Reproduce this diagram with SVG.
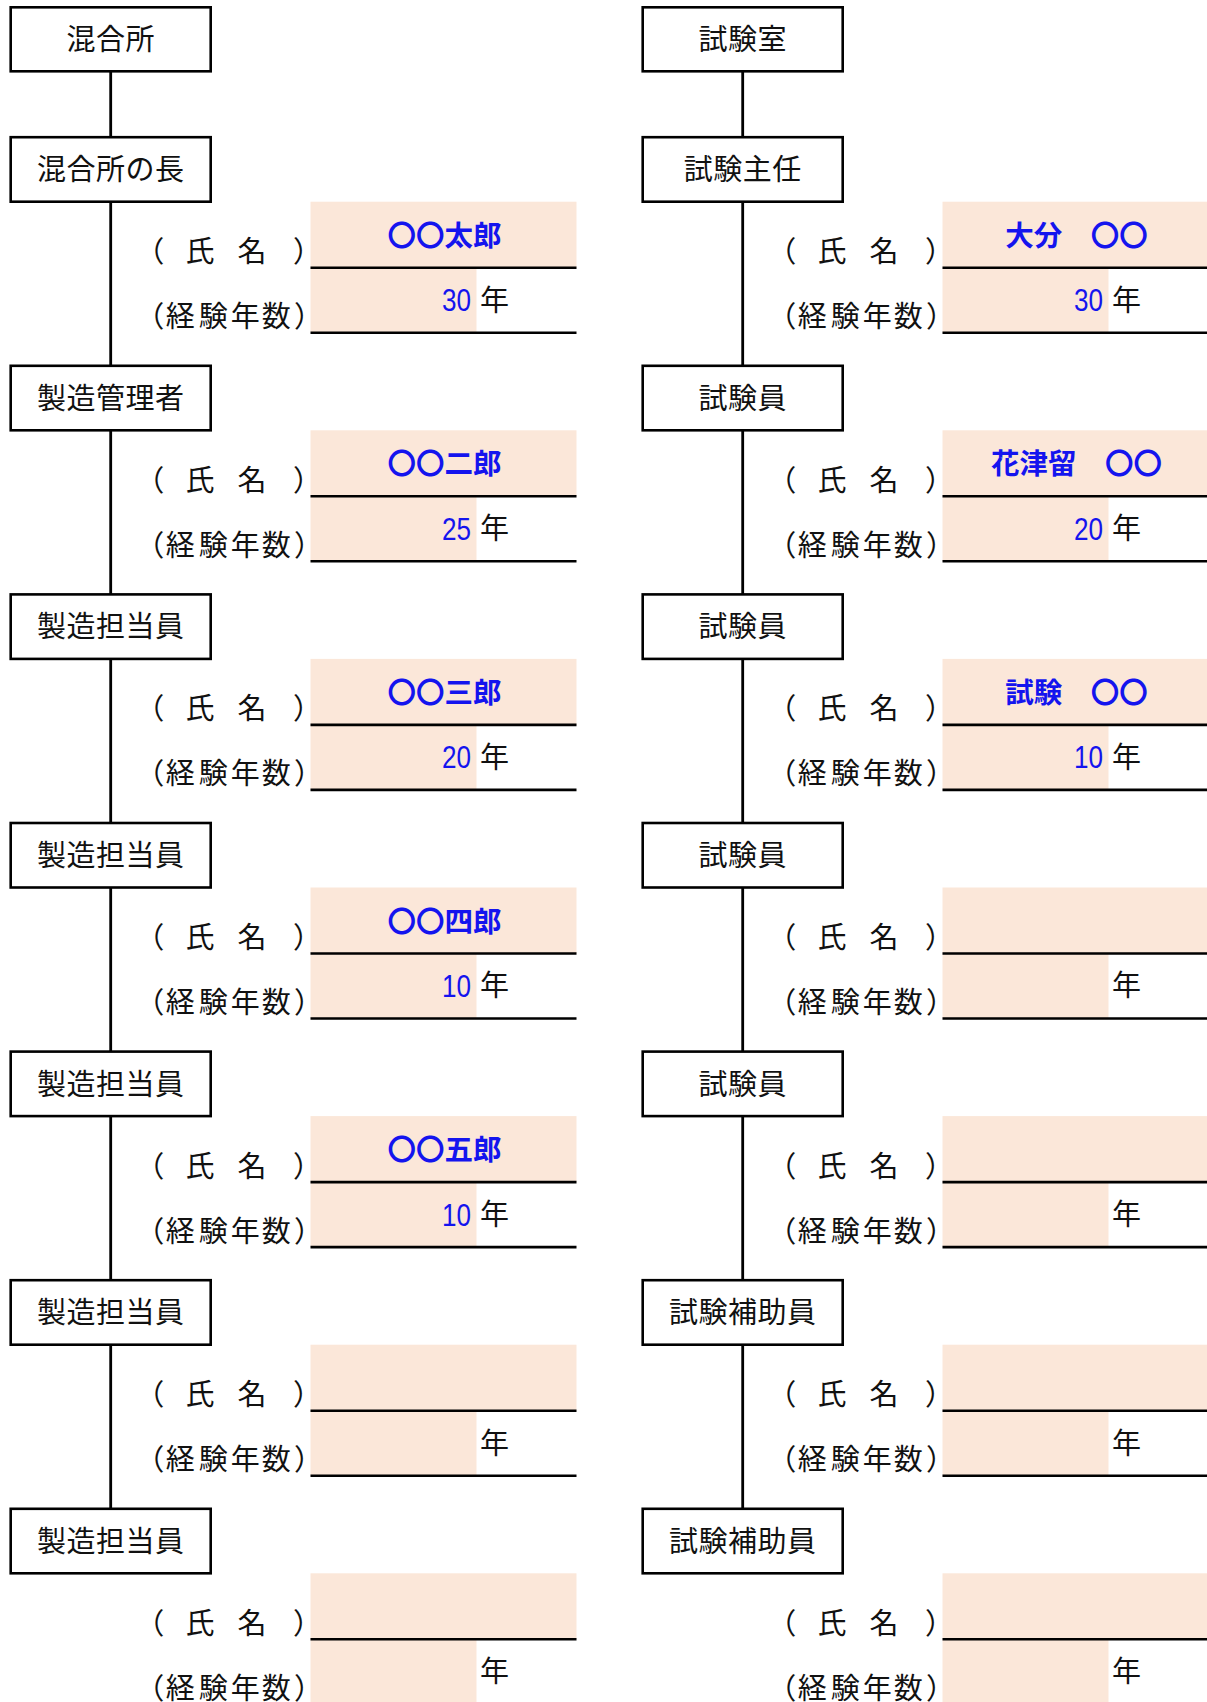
<svg xmlns="http://www.w3.org/2000/svg" width="1207" height="1702" viewBox="0 0 1207 1702">
<style>
.box{fill:#fff;stroke:#000;stroke-width:2.6}
.conn{stroke:#000;stroke-width:2.8;fill:none}
.rule{stroke:#000;stroke-width:2.6;fill:none}
.peach{fill:#FBE7D9}
.t{font-family:"Noto Sans CJK JP","Noto Sans CJK SC",sans-serif;fill:#111}
.title{font-size:29px;text-anchor:middle;letter-spacing:0.5px}
.lab{font-size:29px}
.val{font-family:"Noto Sans CJK JP","Noto Sans CJK SC",sans-serif;font-size:28.5px;font-weight:700;fill:#1414ee;text-anchor:middle}
.num{font-family:"Liberation Sans",Arial,sans-serif;font-size:31px;fill:#1414ee;text-anchor:end}
.yr{font-size:29px}
</style>
<defs>
<g id="fieldsBase">
<rect class="peach" x="310.5" y="64.5" width="266" height="66"/>
<rect class="peach" x="310.5" y="130.5" width="166" height="65"/>
<text class="t lab" x="135.2 160 185.5 211 237.5 265 293" y="125">（　氏　名　）</text>
<text class="t lab" x="135.2 165.7 198.8 230.8 261.7 294" y="190">（経験年数）</text>
<text class="t yr" x="480" y="173.4">年</text>
</g>
</defs>

<g id="connectors">
<path class="conn" d="M110.7 71.3V137.2M110.7 201.7V365.8M110.7 430.3V594.4M110.7 658.9V823M110.7 887.5V1051.6M110.7 1116.1V1280.2M110.7 1344.7V1508.8"/>
<path class="conn" d="M742.7 71.3V137.2M742.7 201.7V365.8M742.7 430.3V594.4M742.7 658.9V823M742.7 887.5V1051.6M742.7 1116.1V1280.2M742.7 1344.7V1508.8"/>
</g>

<!-- Left column -->
<g id="node-mixing-plant"><rect class="box" x="10.7" y="7.3" width="200" height="64"/><text class="t title" x="110.7" y="50.2">混合所</text></g>

<g transform="translate(0,137.2)">
<g id="node-plant-head"><rect class="box" x="10.7" y="0" width="200" height="64.5"/><text class="t title" x="110.7" y="43.1">混合所の長</text></g>
<g id="fields-plant-head"><use href="#fieldsBase"/><path class="rule" d="M310.5 130.5H576.5M310.5 195.5H576.5"/>
<text class="val" x="444.5" y="108.7">〇〇太郎</text><text class="num" x="471" y="174" textLength="29" lengthAdjust="spacingAndGlyphs">30</text></g>
</g>

<g transform="translate(0,365.8)">
<g id="node-production-manager"><rect class="box" x="10.7" y="0" width="200" height="64.5"/><text class="t title" x="110.7" y="43.1">製造管理者</text></g>
<g id="fields-production-manager"><use href="#fieldsBase"/><path class="rule" d="M310.5 130.5H576.5M310.5 195.5H576.5"/>
<text class="val" x="444.5" y="108.7">〇〇二郎</text><text class="num" x="471" y="174" textLength="29" lengthAdjust="spacingAndGlyphs">25</text></g>
</g>

<g transform="translate(0,594.4)">
<g id="node-production-staff-1"><rect class="box" x="10.7" y="0" width="200" height="64.5"/><text class="t title" x="110.7" y="43.1">製造担当員</text></g>
<g id="fields-production-staff-1"><use href="#fieldsBase"/><path class="rule" d="M310.5 130.5H576.5M310.5 195.5H576.5"/>
<text class="val" x="444.5" y="108.7">〇〇三郎</text><text class="num" x="471" y="174" textLength="29" lengthAdjust="spacingAndGlyphs">20</text></g>
</g>

<g transform="translate(0,823)">
<g id="node-production-staff-2"><rect class="box" x="10.7" y="0" width="200" height="64.5"/><text class="t title" x="110.7" y="43.1">製造担当員</text></g>
<g id="fields-production-staff-2"><use href="#fieldsBase"/><path class="rule" d="M310.5 130.5H576.5M310.5 195.5H576.5"/>
<text class="val" x="444.5" y="108.7">〇〇四郎</text><text class="num" x="471" y="174" textLength="29" lengthAdjust="spacingAndGlyphs">10</text></g>
</g>

<g transform="translate(0,1051.6)">
<g id="node-production-staff-3"><rect class="box" x="10.7" y="0" width="200" height="64.5"/><text class="t title" x="110.7" y="43.1">製造担当員</text></g>
<g id="fields-production-staff-3"><use href="#fieldsBase"/><path class="rule" d="M310.5 130.5H576.5M310.5 195.5H576.5"/>
<text class="val" x="444.5" y="108.7">〇〇五郎</text><text class="num" x="471" y="174" textLength="29" lengthAdjust="spacingAndGlyphs">10</text></g>
</g>

<g transform="translate(0,1280.2)">
<g id="node-production-staff-4"><rect class="box" x="10.7" y="0" width="200" height="64.5"/><text class="t title" x="110.7" y="43.1">製造担当員</text></g>
<g id="fields-production-staff-4"><use href="#fieldsBase"/><path class="rule" d="M310.5 130.5H576.5M310.5 195.5H576.5"/></g>
</g>

<g transform="translate(0,1508.8)">
<g id="node-production-staff-5"><rect class="box" x="10.7" y="0" width="200" height="64.5"/><text class="t title" x="110.7" y="43.1">製造担当員</text></g>
<g id="fields-production-staff-5"><use href="#fieldsBase"/><path class="rule" d="M310.5 130.5H576.5"/></g>
</g>

<!-- Right column -->
<g id="node-test-room"><rect class="box" x="642.7" y="7.3" width="200" height="64"/><text class="t title" x="742.7" y="50.2">試験室</text></g>

<g transform="translate(632,137.2)">
<g id="node-test-chief"><rect class="box" x="10.7" y="0" width="200" height="64.5"/><text class="t title" x="110.7" y="43.1">試験主任</text></g>
<g id="fields-test-chief"><use href="#fieldsBase"/><path class="rule" d="M310.5 130.5H576.5M310.5 195.5H576.5"/>
<text class="val" x="444.5" y="108.7">大分　〇〇</text><text class="num" x="471" y="174" textLength="29" lengthAdjust="spacingAndGlyphs">30</text></g>
</g>

<g transform="translate(632,365.8)">
<g id="node-tester-1"><rect class="box" x="10.7" y="0" width="200" height="64.5"/><text class="t title" x="110.7" y="43.1">試験員</text></g>
<g id="fields-tester-1"><use href="#fieldsBase"/><path class="rule" d="M310.5 130.5H576.5M310.5 195.5H576.5"/>
<text class="val" x="444.5" y="108.7">花津留　〇〇</text><text class="num" x="471" y="174" textLength="29" lengthAdjust="spacingAndGlyphs">20</text></g>
</g>

<g transform="translate(632,594.4)">
<g id="node-tester-2"><rect class="box" x="10.7" y="0" width="200" height="64.5"/><text class="t title" x="110.7" y="43.1">試験員</text></g>
<g id="fields-tester-2"><use href="#fieldsBase"/><path class="rule" d="M310.5 130.5H576.5M310.5 195.5H576.5"/>
<text class="val" x="444.5" y="108.7">試験　〇〇</text><text class="num" x="471" y="174" textLength="29" lengthAdjust="spacingAndGlyphs">10</text></g>
</g>

<g transform="translate(632,823)">
<g id="node-tester-3"><rect class="box" x="10.7" y="0" width="200" height="64.5"/><text class="t title" x="110.7" y="43.1">試験員</text></g>
<g id="fields-tester-3"><use href="#fieldsBase"/><path class="rule" d="M310.5 130.5H576.5M310.5 195.5H576.5"/></g>
</g>

<g transform="translate(632,1051.6)">
<g id="node-tester-4"><rect class="box" x="10.7" y="0" width="200" height="64.5"/><text class="t title" x="110.7" y="43.1">試験員</text></g>
<g id="fields-tester-4"><use href="#fieldsBase"/><path class="rule" d="M310.5 130.5H576.5M310.5 195.5H576.5"/></g>
</g>

<g transform="translate(632,1280.2)">
<g id="node-test-assistant-1"><rect class="box" x="10.7" y="0" width="200" height="64.5"/><text class="t title" x="110.7" y="43.1">試験補助員</text></g>
<g id="fields-test-assistant-1"><use href="#fieldsBase"/><path class="rule" d="M310.5 130.5H576.5M310.5 195.5H576.5"/></g>
</g>

<g transform="translate(632,1508.8)">
<g id="node-test-assistant-2"><rect class="box" x="10.7" y="0" width="200" height="64.5"/><text class="t title" x="110.7" y="43.1">試験補助員</text></g>
<g id="fields-test-assistant-2"><use href="#fieldsBase"/><path class="rule" d="M310.5 130.5H576.5"/></g>
</g>
</svg>
